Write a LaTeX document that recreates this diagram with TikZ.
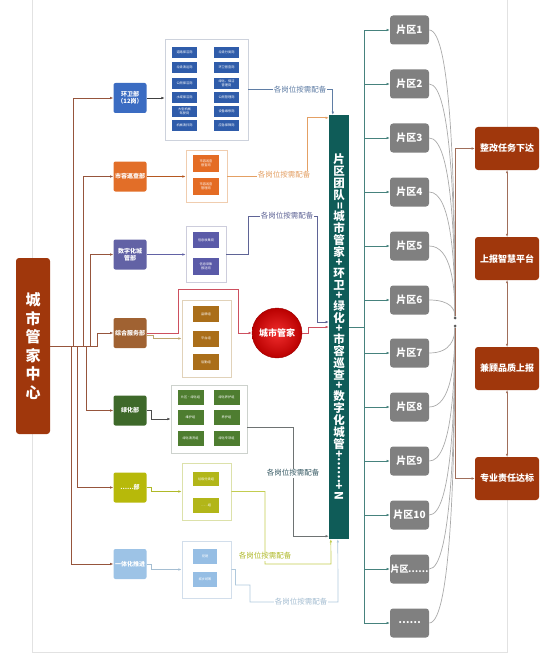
\documentclass[tikz,border=0pt]{standalone}
\usepackage{fontspec}
\setmainfont{Noto Sans CJK SC}
\usepackage{graphicx}
\usetikzlibrary{arrows.meta,shapes.geometric,calc}
\definecolor{rust}{RGB}{160,55,12}
\definecolor{barteal}{RGB}{15,92,88}
\definecolor{pqgray}{RGB}{128,128,128}
\definecolor{tealline}{RGB}{70,130,125}
\definecolor{brn}{RGB}{150,85,60}
\definecolor{brntwo}{RGB}{160,110,90}
\definecolor{hwblue}{RGB}{59,108,194}
\definecolor{hwsub}{RGB}{47,92,170}
\definecolor{srorange}{RGB}{226,110,40}
\definecolor{srsub}{RGB}{228,108,36}
\definecolor{szpurple}{RGB}{98,98,165}
\definecolor{szsub}{RGB}{90,90,168}
\definecolor{zhbrown}{RGB}{160,98,50}
\definecolor{zhsub}{RGB}{170,110,25}
\definecolor{lhgreen}{RGB}{62,105,42}
\definecolor{lhsub}{RGB}{78,125,48}
\definecolor{buyel}{RGB}{183,185,10}
\definecolor{busub}{RGB}{178,182,25}
\definecolor{ytblue}{RGB}{157,195,230}
\definecolor{ytsub}{RGB}{150,190,228}
\definecolor{redin}{RGB}{240,45,45}
\definecolor{redout}{RGB}{185,0,0}
\definecolor{gbone}{RGB}{205,210,220}
\definecolor{gbtwo}{RGB}{240,205,175}
\definecolor{gbthree}{RGB}{205,205,220}
\definecolor{gbfour}{RGB}{225,210,185}
\definecolor{gbfive}{RGB}{205,210,205}
\definecolor{gbsix}{RGB}{220,225,170}
\definecolor{gbseven}{RGB}{210,222,235}
\definecolor{lone}{RGB}{95,125,165}
\definecolor{ltwo}{RGB}{228,160,100}
\definecolor{lthree}{RGB}{95,100,150}
\definecolor{redl}{RGB}{205,80,95}
\definecolor{tanl}{RGB}{190,165,110}
\definecolor{grayl}{RGB}{110,115,115}
\definecolor{lfive}{RGB}{55,90,100}
\definecolor{yell}{RGB}{195,205,80}
\definecolor{lsix}{RGB}{175,185,40}
\definecolor{ltbl}{RGB}{175,200,220}
\definecolor{lseven}{RGB}{165,190,210}
\definecolor{curvegray}{RGB}{170,170,170}
\definecolor{framegray}{RGB}{226,226,226}
\newcommand\rt[1]{\rotatebox[origin=c]{-90}{#1}}
\begin{document}
\begin{tikzpicture}[x=1pt,y=-1pt,
  arr/.style={-{Latex[length=3.2pt,width=2.6pt]}},
  darr/.style={{Latex[length=3pt,width=2.4pt]}-{Latex[length=3pt,width=2.4pt]}},
  dept/.style={fill=#1,rounded corners=2pt,minimum width=33pt,minimum height=30pt,inner sep=0pt,text=white,font=\fontsize{6}{7}\selectfont\bfseries,align=center},
  grp/.style={draw=#1,line width=0.8pt,fill=white,inner sep=0pt},
  sub/.style={fill=#1,inner sep=0pt,text=white,font=\fontsize{3.2}{3.8}\selectfont,align=center},
  lbl/.style={fill=white,inner sep=1pt,text=#1,font=\fontsize{7.5}{8}\selectfont},
  pq/.style={fill=pqgray,rounded corners=3pt,minimum width=39pt,minimum height=29pt,inner sep=0pt,text=white,font=\fontsize{10}{11}\selectfont\bfseries},
  rbox/.style={fill=rust,rounded corners=3pt,minimum width=64pt,minimum height=43pt,inner sep=0pt,text=white,font=\fontsize{9}{10}\selectfont\bfseries},
  dot/.style={circle,fill=black!65,inner sep=0pt,minimum size=3pt},
  lw/.style={line width=0.7pt}]
\useasboundingbox (0,0) rectangle (548,658);
% frame
\draw[framegray,line width=0.8pt] (32,0) -- (32,652) -- (507,652) -- (507,0);

% main centre
\node[fill=rust,rounded corners=3pt,minimum width=34pt,minimum height=176pt,inner sep=0pt,text=white] (ctr) at (33,346)
  {\parbox{18pt}{\centering\fontsize{15}{18.5}\selectfont\bfseries 城\\市\\管\\家\\中\\心}};

% departments
\node[dept=hwblue] (hw) at (130,98) {环卫部\\（12岗）};
\node[dept=srorange] (sr) at (130,176.5) {市容巡查部};
\node[dept=szpurple] (sz) at (130,254.5) {数字化城\\管部};
\node[dept=zhbrown] (zh) at (130,333) {综合服务部};
\node[dept=lhgreen] (lh) at (130,410.5) {绿化部};
\node[dept=buyel] (bu) at (130,487.5) {……部};
\node[dept=ytblue] (yt) at (130,564) {一体化推进};

% trunks
\begin{scope}[brn,lw]
\draw[arr] (ctr.east) -- ++(23,0) |- (hw.west);
\draw[arr] (ctr.east) -- ++(33,0) |- (sr.west);
\draw[arr] (ctr.east) -- ++(40,0) |- (sz.west);
\draw[arr] (ctr.east) -- ++(47,0) |- (zh.west);
\draw[arr] (ctr.east) -- ++(36,0) |- (lh.west);
\draw[arr] (ctr.east) -- ++(27,0) |- (bu.west);
\draw[arr] (ctr.east) -- ++(21,0) |- (yt.west);
\end{scope}

% central bar
\node[fill=barteal,minimum width=20pt,minimum height=424pt,inner sep=0pt,text=white] (bar) at (339,327)
 {\parbox{18pt}{\centering\fontsize{11.5}{12}\selectfont\bfseries\lineskip=0.5pt
 片\\区\\团\\队\\[-1.5pt]\rt{=}\\[-1.5pt]城\\市\\管\\家\\[-1.5pt]+\\[-1.5pt]环\\卫\\[-1.5pt]+\\[-1.5pt]绿\\化\\[-1.5pt]+\\[-1.5pt]市\\容\\巡\\查\\[-1.5pt]+\\[-1.5pt]数\\字\\化\\城\\管\\[-1.5pt]+\\[-1.5pt]\rt{……}\\[-1.5pt]+\\[-1.5pt]\rt{N}}};

% group 1
\node[grp=gbone,minimum width=83pt,minimum height=101pt] (g1) at (206.5,89.5) {};
\foreach \n/\x/\y/\t in {a/184.5/52.5/道路保洁岗,b/184.5/67.5/垃圾清运岗,c/184.5/83.5/公厕保洁岗,d/184.5/97.5/水域保洁岗,e/184.5/111.5/大型机械\\驾驶岗,f/184.5/125.5/机械清扫岗,
  g/226.5/52.5/垃圾分类岗,h/226.5/67.5/环卫督查岗,i/226.5/83.5/绿化、保洁\\管理岗,j/226.5/97.5/公厕管理岗,k/226.5/111.5/设备维修岗,l/226.5/125.5/应急保障岗}
  \node[sub=hwsub,minimum width=25pt,minimum height=11pt] (g1\n) at (\x,\y) {\t};
\draw[black!75,lw,arr] (hw.east) -- (hw.east -| g1.west);
\draw[lone,lw,arr] (g1.east) -| ([xshift=4pt]bar.north west);
\node[lbl=lone] (l1) at (300,90) {各岗位按需配备};

% group 2
\node[grp=gbtwo,minimum width=41pt,minimum height=52pt] (g2) at (206.5,176) {};
\node[sub=srsub,minimum width=26pt,minimum height=17pt] (g2a) at (206,163.5) {市容巡查\\督查岗};
\node[sub=srsub,minimum width=26pt,minimum height=17pt] (g2b) at (206,186.5) {市容巡查\\管理岗};
\draw[srorange!80!black,lw,arr] (sr.east) -- (sr.east -| g2.west);
\draw[ltwo,lw,arr] (g2.east) -- (307,176) |- ([yshift=-3pt]bar.north west);
\node[lbl=ltwo] (l2) at (284,175) {各岗位按需配备};

% group 3
\node[grp=gbthree,minimum width=40pt,minimum height=56pt] (g3) at (206,254) {};
\node[sub=szsub,minimum width=26pt,minimum height=16pt] (g3a) at (206,240) {信息收集岗};
\node[sub=szsub,minimum width=26pt,minimum height=17pt] (g3b) at (206,266.5) {信息采集\\报送岗};
\draw[szpurple,lw,arr] (sz.east) -- (sz.east -| g3.west);
\draw[lthree,lw,arr] (g3.east) -- ++(22,0) |- (317,216) |- ([yshift=5pt]bar.west);
\node[lbl=lthree] (l3) at (287,216) {各岗位按需配备};

% group 4
\node[grp=gbfour,minimum width=49pt,minimum height=77pt] (g4) at (206.5,338.5) {};
\node[sub=zhsub,minimum width=26pt,minimum height=16pt] (g4a) at (206,314) {品牌组};
\node[sub=zhsub,minimum width=26pt,minimum height=16pt] (g4b) at (206,338.5) {平台组};
\node[sub=zhsub,minimum width=26pt,minimum height=16pt] (g4c) at (206,362) {后勤组};
\node[circle,inner color=redin,outer color=redout,draw=redout!85!black,line width=0.4pt,minimum size=50pt,inner sep=0pt,text=white,font=\fontsize{9}{10}\selectfont\bfseries] (cm) at (277,333) {城市管家};
\draw[tanl,lw,arr] ([yshift=-2pt]zh.east) -- (153,335) |- (g4.west);
\draw[redl,lw,arr] (zh.east) -- (178,333) -- (178,289) -- (238,289) |- (cm.west);
\draw[redl,lw,arr] (cm.east) -- ++(6,0) |- (bar.west);

% group 5
\node[grp=gbfive,minimum width=76pt,minimum height=68pt] (g5) at (209,419) {};
\foreach \n/\x/\y/\t in {a/190.5/397.5/片区·绿化组,b/190.5/417.5/维护组,c/190.5/438/绿化清洗组,d/226.5/397.5/绿化养护组,e/226.5/417.5/养护组,f/226.5/438/绿化专项组}
  \node[sub=lhsub,minimum width=26pt,minimum height=15pt] (g5\n) at (\x,\y) {\t};
\draw[black!70,lw,arr] (lh.east) -- ++(5,0) |- (g5.west);
\draw[grayl,lw,arr] ([yshift=-8pt]g5.east) -- (293,427) |- ([yshift=3pt]bar.south west);
\node[lbl=lfive] (l5) at (293,473) {各岗位按需配备};

% group 6
\node[grp=gbsix,minimum width=49pt,minimum height=57pt] (g6) at (206.5,491.5) {};
\node[sub=busub,minimum width=26pt,minimum height=14pt] (g6a) at (206,479) {垃圾分类组};
\node[sub=busub,minimum width=26pt,minimum height=15pt] (g6b) at (206,505.5) {……组};
\draw[lsix,lw,arr] (bu.east) -- ++(5,0) |- (g6.west);
\draw[yell,lw,arr] (g6.east) -- (265,491.5) |- (331,564) -- ([xshift=2pt]bar.south west);
\node[lbl=lsix] (l6) at (265,556) {各岗位按需配备};

% group 7
\node[grp=gbseven,minimum width=49pt,minimum height=57pt] (g7) at (206.5,569.5) {};
\node[sub=ytsub,minimum width=24pt,minimum height=15pt] (g7a) at (205,556.5) {党建};
\node[sub=ytsub,minimum width=24pt,minimum height=15pt] (g7b) at (205,579.5) {城乡统筹};
\draw[lseven,lw,arr] (yt.east) -- ++(5,0) |- (g7.west);
\draw[ltbl,lw,arr] (g7.east) -- ++(4,0) |- (250,585) |- (338,602) -- ([xshift=9pt]bar.south west);
\node[lbl=lseven] (l7) at (301,602) {各岗位按需配备};

% right side
\node[dot] (d1) at (455,318) {};
\node[dot] (d2) at (455,326) {};
\foreach \i/\y/\t in {1/30/片区1,2/84/片区2,3/138/片区3,4/192/片区4,5/246/片区5,6/300/片区6,7/353/片区7,8/407/片区8,9/461/片区9,10/515/片区10,11/569/{\fontsize{9}{10}\selectfont 片区\kern-0.5pt……},12/623/……}{
  \node[pq] (p\i) at (409.5,\y) {\t};
  \draw[tealline,lw,arr] (bar.east) -- ++(15,0) |- (p\i.west);
}
\foreach \i/\y in {1/30,2/84,3/138,4/192,5/246,6/300}{
  \pgfmathsetmacro\h{0.45*(318-\y)}
  \draw[curvegray,lw] (p\i.east) .. controls +(22,0) and +(0,-\h) .. (d1);
}
\foreach \i/\y in {7/353,8/407,9/461,10/515,11/569,12/623}{
  \pgfmathsetmacro\h{0.45*(\y-326)}
  \draw[curvegray,lw] (p\i.east) .. controls +(22,0) and +(0,\h) .. (d2);
}
\node[rbox] (r1) at (507,148.5) {整改任务下达};
\node[rbox] (r2) at (507,258.5) {上报智慧平台};
\node[rbox] (r3) at (507,368.5) {兼顾品质上报};
\node[rbox] (r4) at (507,478.5) {专业责任达标};
\draw[brntwo,lw,arr] (d1) |- (r1.west);
\draw[brntwo,lw,arr] (d2) |- (r4.west);
\draw[brntwo,lw,darr] (r1.south) -- (r2.north);
\draw[brntwo,lw,darr] (r2.south) -- (r3.north);
\draw[brntwo,lw,darr] (r3.south) -- (r4.north);
\end{tikzpicture}
\end{document}
